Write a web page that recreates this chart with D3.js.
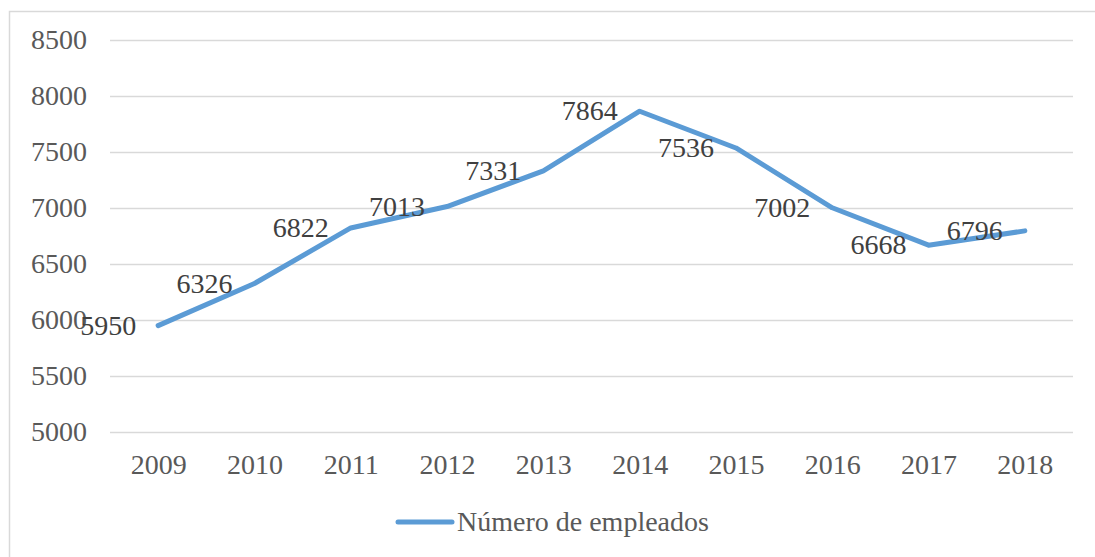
<!DOCTYPE html>
<html>
<head>
<meta charset="utf-8">
<script src="https://cdn.jsdelivr.net/npm/d3@7"></script>
<style>
  body { margin: 0; background: #fff; }
  text { font-family: "Liberation Serif", "Times New Roman", serif; }
</style>
</head>
<body>
<script>
const years = ["2009", "2010", "2011", "2012", "2013", "2014", "2015", "2016", "2017", "2018"];
const empleados = [5950, 6326, 6822, 7013, 7331, 7864, 7536, 7002, 6668, 6796];
const yTicks = [5000, 5500, 6000, 6500, 7000, 7500, 8000, 8500];
const seriesName = "Número de empleados";

const width = 1095, height = 557;
const margin = {top: 40, right: 22, bottom: 125, left: 110};

const svg = d3.select("body").append("svg")
    .attr("width", width)
    .attr("height", height);

// chart frame
svg.append("rect")
    .attr("x", 9.5).attr("y", 11.5)
    .attr("width", width + 20).attr("height", height + 20)
    .attr("fill", "none")
    .attr("stroke", "#d9d9d9")
    .attr("stroke-width", 1.5);

const x = d3.scalePoint()
    .domain(years)
    .range([margin.left, width - margin.right])
    .padding(0.5);

const y = d3.scaleLinear()
    .domain([5000, 8500])
    .range([height - margin.bottom, margin.top]);

// gridlines
svg.append("g")
    .selectAll("line")
    .data(yTicks)
    .join("line")
      .attr("x1", margin.left)
      .attr("x2", width - margin.right)
      .attr("y1", d => Math.round(y(d)) + 0.5)
      .attr("y2", d => Math.round(y(d)) + 0.5)
      .attr("stroke", "#d9d9d9")
      .attr("stroke-width", 1.5);

// y axis labels
const yAxis = svg.append("g")
    .attr("transform", `translate(${margin.left - 23},0)`)
    .call(d3.axisLeft(y).tickValues(yTicks).tickFormat(d3.format("d")).tickSize(0).tickPadding(0));
yAxis.select(".domain").remove();
yAxis.selectAll("text")
    .attr("font-family", "Liberation Serif, serif")
    .attr("font-size", 28)
    .attr("fill", "#595959");

// x axis labels
const xAxis = svg.append("g")
    .attr("transform", `translate(0,${height - margin.bottom})`)
    .call(d3.axisBottom(x).tickSize(0).tickPadding(22));
xAxis.select(".domain").remove();
xAxis.selectAll("text")
    .attr("font-family", "Liberation Serif, serif")
    .attr("font-size", 28)
    .attr("fill", "#595959");

const data = years.map((yr, i) => ({year: yr, value: empleados[i]}));

const line = d3.line()
    .x(d => x(d.year))
    .y(d => y(d.value));

svg.append("path")
    .datum(data)
    .attr("fill", "none")
    .attr("stroke", "#5b9bd5")
    .attr("stroke-width", 5)
    .attr("stroke-linejoin", "round")
    .attr("stroke-linecap", "round")
    .attr("d", line);

// data labels, left of each point
svg.append("g")
    .selectAll("text")
    .data(data)
    .join("text")
      .attr("x", d => x(d.year) - 22)
      .attr("y", d => y(d.value))
      .attr("dy", "0.33em")
      .attr("text-anchor", "end")
      .attr("font-size", 28)
      .attr("fill", "#404040")
      .text(d => d.value);

// legend
const legend = svg.append("g").attr("transform", "translate(398,522)");
legend.append("line")
    .attr("x1", 0).attr("x2", 54)
    .attr("stroke", "#5b9bd5")
    .attr("stroke-width", 5)
    .attr("stroke-linecap", "round");
legend.append("text")
    .attr("x", 59)
    .attr("dy", "0.33em")
    .attr("font-size", 28)
    .attr("fill", "#595959")
    .text(seriesName);
</script>
</body>
</html>
